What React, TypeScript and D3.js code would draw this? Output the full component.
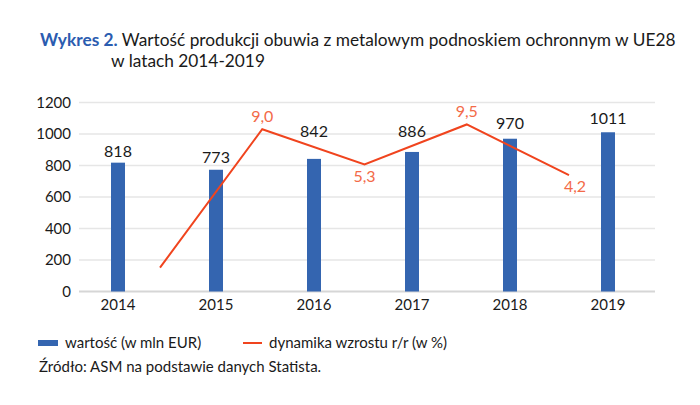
import { useEffect, useRef } from "react";
import * as d3 from "d3";

const years = ["2014", "2015", "2016", "2017", "2018", "2019"];
const values = [818, 773, 842, 886, 970, 1011];
const growthSteps = ["2014-15", "2015-16", "2016-17", "2017-18", "2018-19"];
const growth = [-5.5, 9.0, 5.3, 9.5, 4.2];
const growthLabels = ["", "9,0", "5,3", "9,5", "4,2"];
const yTicks = [0, 200, 400, 600, 800, 1000, 1200];

// label placement (px above the bar top / relative to line point)
const barLabelLift = [11, 12.5, 27.5, 20.5, 15, 13.5];
const growthLabelDx = [0, 0, 0, 0, 6];
const growthLabelDy = [0, -13, 12, -13, 11];

const FONT = "Lato, 'Open Sans', sans-serif";
const BLUE = "#3465b0";
const RED = "#f0441e";
const RED_LABEL = "#f36a48";

export default function App() {
  const ref = useRef<SVGSVGElement | null>(null);

  useEffect(() => {
    if (!ref.current) return;
    const svg = d3.select(ref.current);
    svg.selectAll("*").remove();

    const width = 700;
    const height = 405;
    svg.attr("width", width).attr("height", height);

    svg.append("rect").attr("width", width).attr("height", height).attr("fill", "#ffffff");

    // Title
    const title = svg.append("text")
      .attr("x", 40)
      .attr("y", 46)
      .style("font-family", FONT)
      .style("font-size", "17.3px")
      .attr("fill", "#1a1a1a");
    title.append("tspan").attr("fill", "#2b5cb0").style("font-weight", "700").text("Wykres 2. ");
    title.append("tspan").text("Wartość produkcji obuwia z metalowym podnoskiem ochronnym w UE28");
    svg.append("text")
      .attr("x", 111)
      .attr("y", 67)
      .style("font-family", FONT)
      .style("font-size", "17.3px")
      .attr("fill", "#1a1a1a")
      .text("w latach 2014-2019");

    // Scales
    const x = d3.scaleBand().domain(years).range([69, 657]).padding(0);
    const y = d3.scaleLinear().domain([0, 1200]).range([291.5, 102.5]);
    const xLine = d3.scalePoint().domain(growthSteps).range([160, 569]);
    const yLine = d3.scaleLinear().domain([-8, 11.8]).range([291.5, 102.5]);

    // Grid
    svg.append("g")
      .selectAll("line")
      .data(yTicks)
      .enter()
      .append("line")
      .attr("x1", 79)
      .attr("x2", 655)
      .attr("y1", d => y(d))
      .attr("y2", d => y(d))
      .attr("stroke", d => (d === 0 ? "#d6d6d6" : "#e6e6e6"))
      .attr("stroke-width", d => (d === 0 ? 2 : 1.3));

    // Y axis labels
    svg.append("g")
      .selectAll("text")
      .data(yTicks)
      .enter()
      .append("text")
      .attr("x", 71)
      .attr("y", d => y(d))
      .attr("dy", "0.35em")
      .attr("text-anchor", "end")
      .style("font-family", FONT)
      .style("font-size", "15px")
      .attr("fill", "#1a1a1a")
      .text(d => d);

    // X axis labels
    svg.append("g")
      .selectAll("text")
      .data(years)
      .enter()
      .append("text")
      .attr("x", d => (x(d) || 0) + x.bandwidth() / 2)
      .attr("y", 305)
      .attr("dy", "0.35em")
      .attr("text-anchor", "middle")
      .style("font-family", FONT)
      .style("font-size", "15px")
      .attr("fill", "#1a1a1a")
      .text(d => d);

    // Bars
    const barW = 14;
    svg.append("g")
      .selectAll("rect")
      .data(values)
      .enter()
      .append("rect")
      .attr("x", (d, i) => (x(years[i]) || 0) + x.bandwidth() / 2 - barW / 2)
      .attr("y", d => y(d))
      .attr("width", barW)
      .attr("height", d => y(0) - y(d))
      .attr("fill", BLUE);

    // Bar labels
    svg.append("g")
      .selectAll("text")
      .data(values)
      .enter()
      .append("text")
      .attr("x", (d, i) => (x(years[i]) || 0) + x.bandwidth() / 2)
      .attr("y", (d, i) => y(d) - barLabelLift[i])
      .attr("dy", "0.35em")
      .attr("text-anchor", "middle")
      .style("font-family", FONT)
      .style("font-size", "16px")
      .attr("fill", "#1a1a1a")
      .text(d => d);

    // Growth line
    const lineGen = d3.line<number>()
      .x((d, i) => xLine(growthSteps[i]) || 0)
      .y(d => yLine(d));
    svg.append("path")
      .datum(growth)
      .attr("d", lineGen)
      .attr("fill", "none")
      .attr("stroke", RED)
      .attr("stroke-width", 2);

    svg.append("g")
      .selectAll("text")
      .data(growth)
      .enter()
      .append("text")
      .attr("x", (d, i) => (xLine(growthSteps[i]) || 0) + growthLabelDx[i])
      .attr("y", (d, i) => yLine(d) + growthLabelDy[i])
      .attr("dy", "0.35em")
      .attr("text-anchor", "middle")
      .style("font-family", FONT)
      .style("font-size", "16px")
      .attr("fill", RED_LABEL)
      .text((d, i) => growthLabels[i]);

    // Legend
    svg.append("rect")
      .attr("x", 38).attr("y", 340).attr("width", 20).attr("height", 6)
      .attr("fill", BLUE);
    svg.append("text")
      .attr("x", 65).attr("y", 343).attr("dy", "0.35em")
      .style("font-family", FONT).style("font-size", "15px")
      .attr("fill", "#1a1a1a")
      .text("wartość (w mln EUR)");
    svg.append("line")
      .attr("x1", 243).attr("x2", 262).attr("y1", 343).attr("y2", 343)
      .attr("stroke", RED).attr("stroke-width", 2);
    svg.append("text")
      .attr("x", 269).attr("y", 343).attr("dy", "0.35em")
      .style("font-family", FONT).style("font-size", "15px")
      .attr("fill", "#1a1a1a")
      .text("dynamika wzrostu r/r (w %)");

    // Source
    svg.append("text")
      .attr("x", 39).attr("y", 367).attr("dy", "0.35em")
      .style("font-family", FONT).style("font-size", "15px")
      .attr("fill", "#1a1a1a")
      .text("Źródło: ASM na podstawie danych Statista.");
  }, []);

  return (
    <div style={{ position: "absolute", left: 0, top: 0, width: 700, height: 405 }}>
      <svg ref={ref} style={{ display: "block" }} />
    </div>
  );
}
